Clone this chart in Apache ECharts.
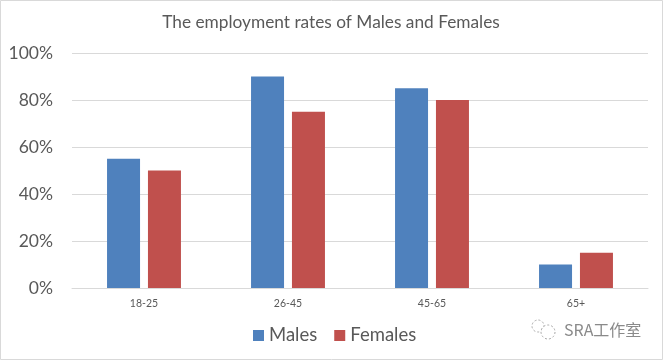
<!DOCTYPE html>
<html><head><meta charset="utf-8"><style>html,body{margin:0;padding:0;background:#fff}#c{width:663px;height:360px}</style>
<script src="https://cdn.jsdelivr.net/npm/echarts@6/dist/echarts.min.js"></script></head>
<body><div id="c"></div><script>
const categories=["18-25","26-45","45-65","65+"];
const males=[55,90,85,10];
const females=[50,75,80,15];
const chart=echarts.init(document.getElementById('c'),null,{renderer:'canvas'});
const font='Lato,"Open Sans",sans-serif';
chart.setOption({animation:false,backgroundColor:'#fff',
title:{text:'The employment rates of Males and Females',left:326,top:9,textAlign:'center',textStyle:{fontSize:17.3,fontWeight:'normal',color:'#595959',fontFamily:font}},
legend:{top:321,left:248,itemWidth:11,itemHeight:11,itemGap:17,icon:'rect',textStyle:{fontSize:18.5,color:'#595959',fontFamily:font},data:['Males','Females']},
grid:{left:72,right:15,top:53,bottom:72},
xAxis:{type:'category',data:categories,axisTick:{show:false},axisLine:{lineStyle:{color:'#d9d9d9'}},axisLabel:{fontSize:10.5,color:'#595959',margin:10,fontFamily:font}},
yAxis:{type:'value',min:0,max:100,interval:20,axisLine:{show:false},axisTick:{show:false},axisLabel:{formatter:'{value}%',fontSize:17.5,color:'#595959',margin:19,fontFamily:font},splitLine:{lineStyle:{color:'#d9d9d9'}}},
series:[{name:'Males',type:'bar',data:males,barWidth:33,barGap:'24%',itemStyle:{color:'#4f81bd'}},
{name:'Females',type:'bar',data:females,barWidth:33,itemStyle:{color:'#c0504d'}}],
graphic:[
{type:'rect',shape:{x:0.5,y:0.5,width:662,height:359},style:{fill:'none',stroke:'#d9d9d9',lineWidth:1},silent:true},
{type:'text',x:564,y:322,style:{text:'SRA工作室',fontSize:16,fill:'#8a8a8a',fontFamily:'"Noto Sans CJK SC"'}},
{type:'circle',shape:{cx:538,cy:326,r:6},style:{fill:'#fff',stroke:'#a8a8a8',lineWidth:1,lineDash:[2,2]}},
{type:'circle',shape:{cx:548,cy:332,r:7},style:{fill:'#fff',stroke:'#a8a8a8',lineWidth:1,lineDash:[2,2]}}
]
});
</script></body></html>
